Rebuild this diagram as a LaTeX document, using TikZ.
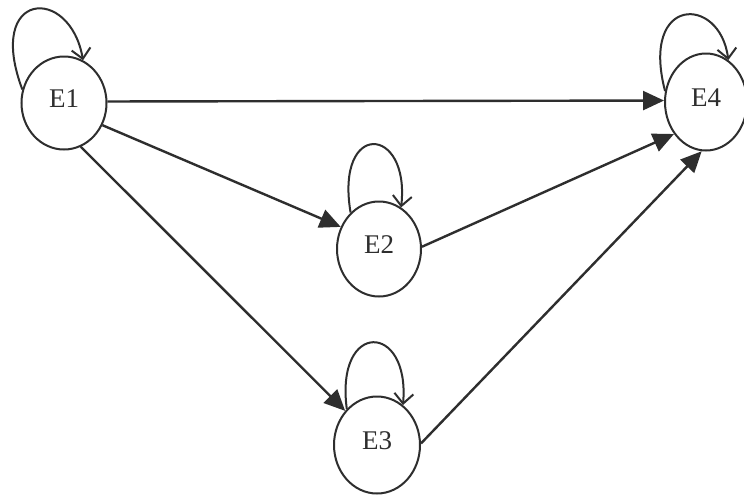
\documentclass[tikz,border=0pt]{standalone}
\usepackage{fontspec}
\setmainfont{Liberation Serif}
\usetikzlibrary{shapes.geometric,arrows.meta}
\definecolor{ink}{HTML}{2E2E2E}
\tikzset{
  state/.style={draw=ink, line width=2pt, ellipse, inner sep=0pt, text depth=9pt,
    font=\fontsize{27}{30}\selectfont, text=ink},
  edge/.style={draw=ink, line width=2.4pt, -{Triangle[length=21pt,width=19pt]}},
  selfloop/.style={draw=ink, line width=2pt, -{Straight Barb[length=10pt,width=19pt]}}
}
\begin{document}
\begin{tikzpicture}[x=1pt,y=-1pt]
\useasboundingbox (0,0) rectangle (744,496);
\fill[white] (0,0) rectangle (744,496);
\node[state, minimum width=85pt, minimum height=93pt] (E1) at (64,103) {E1};
\node[state, minimum width=82pt, minimum height=97pt] (E4) at (706,102) {E4};
\node[state, minimum width=84pt, minimum height=95pt] (E2) at (379,249) {E2};
\node[state, minimum width=86pt, minimum height=97pt] (E3) at (377,445) {E3};
% self loops
\draw[selfloop] (E1.162) .. controls (-15,-10) and (70,-15) .. (E1.66);
\draw[selfloop] (E4.165) .. controls (640,-5) and (720,-5) .. (E4.62);
\draw[selfloop] (E2.128) .. controls (335,120) and (410,125) .. (E2.62);
\draw[selfloop] (E3.130) .. controls (335,320) and (410,322) .. (E3.57);
% edges
\draw[edge] (E1.2) -- (E4.178);
\draw[edge] (E1.-30) -- (E2.150);
\draw[edge] (E1.-69) -- (E3.133);
\draw[edge] (E2.3) -- (E4.-135);
\draw[edge] (E3.2) -- (E4.-95);
\end{tikzpicture}
\end{document}
